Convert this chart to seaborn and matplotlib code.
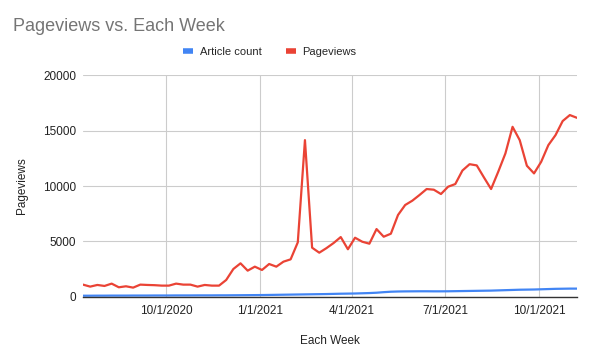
import matplotlib
matplotlib.use("Agg")
import matplotlib.pyplot as plt
import matplotlib.dates as mdates
from matplotlib.lines import Line2D
import numpy as np
import pandas as pd
import seaborn as sns

# weekly data
start_date = "2020-07-12"
n_weeks = 70

pageviews = [1110, 930, 1080, 990, 1200, 870, 960, 840, 1110, 1080,
             1060, 1020, 1020, 1200, 1110, 1110, 930, 1080, 1020, 1020,
             1530, 2520, 3030, 2370, 2730, 2430, 2970, 2730, 3180, 3390,
             4920, 14140, 4440, 3990, 4400, 4860, 5400, 4300, 5340, 4980,
             4800, 6120, 5430, 5700, 7390, 8290, 8680, 9190, 9730, 9670,
             9280, 9940, 10180, 11400, 11970, 11860, 10780, 9730, 11290, 12940,
             15340, 14140, 11830, 11140, 12190, 13690, 14590, 15860, 16400, 16150]

article_count = [110, 110, 115, 115, 120, 120, 120, 125, 125, 125,
                 130, 130, 130, 135, 135, 135, 140, 140, 140, 145,
                 145, 150, 155, 160, 165, 170, 180, 190, 200, 210,
                 220, 230, 240, 250, 260, 275, 290, 300, 310, 330,
                 350, 380, 430, 470, 490, 500, 505, 510, 510, 505,
                 505, 510, 520, 530, 540, 550, 560, 570, 590, 610,
                 630, 650, 660, 670, 690, 710, 730, 740, 750, 750]

y_ticks = [0, 5000, 10000, 15000, 20000]
x_ticks = ["2020-10-01", "2021-01-01", "2021-04-01", "2021-07-01", "2021-10-01"]

weeks = pd.date_range(start_date, periods=n_weeks, freq="7D")
df = pd.DataFrame({"week": weeks,
                   "Article count": article_count,
                   "Pageviews": pageviews})
long_df = df.melt(id_vars="week", var_name="series", value_name="value")

sns.set_theme(style="white")
plt.rcParams["font.family"] = ["Liberation Sans", "DejaVu Sans"]

fig = plt.figure(figsize=(5.93, 3.63), dpi=100)
ax = fig.add_axes([0.140, 0.182, 0.833, 0.611])

sns.lineplot(data=long_df, x="week", y="value", hue="series",
             palette={"Article count": "#4285F4", "Pageviews": "#EA4335"},
             linewidth=1.6, ax=ax, legend=False)

ax.set_xlim(weeks[0], weeks[-1])
ax.set_ylim(0, 20000)
ax.set_yticks(y_ticks)
ax.set_xticks(pd.to_datetime(x_ticks))
ax.xaxis.set_major_formatter(
    plt.FuncFormatter(lambda v, p: (lambda d: f"{d.month}/{d.day}/{d.year}")(mdates.num2date(v))))

ax.grid(True, color="#cccccc", linewidth=0.8)
ax.set_axisbelow(True)
for s in ["top", "right", "left"]:
    ax.spines[s].set_visible(False)
ax.spines["bottom"].set_color("#333333")
ax.spines["bottom"].set_linewidth(1.0)
ax.spines["bottom"].set_zorder(5)
ax.tick_params(axis="both", length=0, labelsize=8.5, labelcolor="#222222")
ax.tick_params(axis="y", pad=5)
ax.tick_params(axis="x", pad=6)

ax.set_xlabel("Each Week", fontsize=8.5, color="#222222", labelpad=13)
ax.set_ylabel("Pageviews", fontsize=8.5, color="#222222", labelpad=11)

fig.text(0.022, 0.915, "Pageviews vs. Each Week", fontsize=13, color="#757575",
         ha="left", va="baseline")

handles = [Line2D([], [], color="#4285F4", linewidth=4, solid_capstyle="butt"),
           Line2D([], [], color="#EA4335", linewidth=4, solid_capstyle="butt")]
fig.legend(handles, ["Article count", "Pageviews"], loc="center",
           bbox_to_anchor=(0.455, 0.858), ncol=2, frameon=False,
           fontsize=8, handlelength=0.9, handletextpad=0.6, columnspacing=2.2)

fig.savefig("out.png", dpi=100)
